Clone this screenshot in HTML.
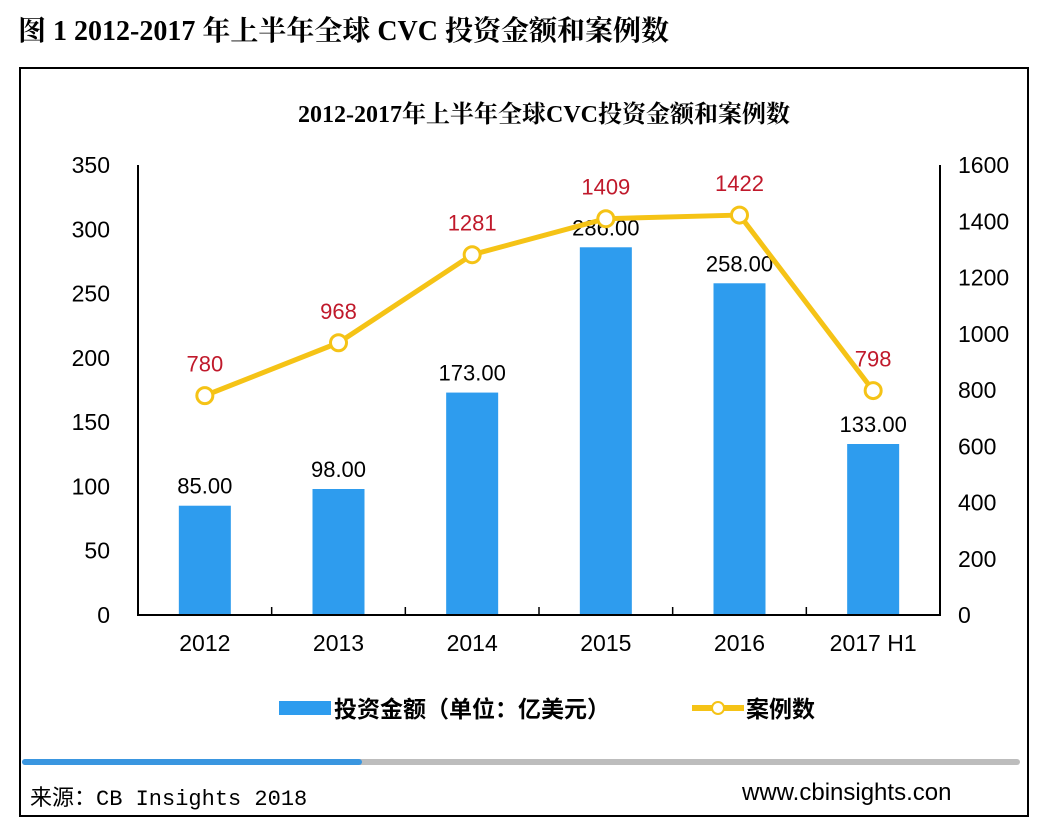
<!DOCTYPE html>
<html><head><meta charset="utf-8"><style>
body{margin:0;background:#fff;width:1042px;height:828px;overflow:hidden;position:relative;font-family:"Liberation Sans","Noto Sans CJK SC",sans-serif}
.t{position:absolute;white-space:nowrap}
</style></head><body>
<div class="t" style="left:18px;top:9px;font-size:28px;font-weight:bold;font-family:'Liberation Serif','Noto Serif CJK SC',serif">图 1 2012-2017 年上半年全球 CVC 投资金额和案例数</div>
<div style="position:absolute;left:19px;top:67px;width:1006px;height:746px;border:2px solid #000"></div>
<div style="position:absolute;left:22px;top:759px;width:998px;height:6px;background:#bdbdbd;border-radius:3px"></div>
<div style="position:absolute;left:22px;top:759px;width:340px;height:6px;background:#3a96e0;border-radius:3px"></div>
<div class="t" style="left:30px;top:780px;font-size:22px;font-family:'Liberation Mono','Noto Sans CJK SC',monospace">来源：CB Insights 2018</div>
<div class="t" style="left:742px;top:779px;font-size:24px">www.cbinsights.con</div>
<svg id="c" width="1042" height="828" style="position:absolute;left:0;top:0"></svg>
<script>
const categories=["2012","2013","2014","2015","2016","2017 H1"];
const amounts=[85,98,173,286,258,133];
const cases=[780,968,1281,1409,1422,798];
const leftTicks=[0,50,100,150,200,250,300,350];
const rightTicks=[0,200,400,600,800,1000,1200,1400,1600];
const L=138,R=940,T=165,B=615;
const bw=(R-L)/categories.length;
const xC=i=>L+bw*(i+0.5);
const yL=v=>B-v/350*(B-T);
const yR=v=>B-v/1600*(B-T);
const s=document.getElementById('c');const NS='http://www.w3.org/2000/svg';
function el(tag,a,txt){const e=document.createElementNS(NS,tag);for(const k in a)e.setAttribute(k,a[k]);if(txt!=null)e.textContent=txt;s.appendChild(e);return e;}
let e;
e=el('text',{x:544,y:122,'text-anchor':'middle','font-size':24,'font-weight':'bold','font-family':'Liberation Serif,Noto Serif CJK SC,serif'},'2012-2017年上半年全球CVC投资金额和案例数');

amounts.forEach((v,i)=>{
e=el('rect',{x:xC(i)-26,y:yL(v),width:52,height:B-yL(v),fill:'#2e9cee'});

e=el('text',{x:xC(i),y:yL(v)-12,'text-anchor':'middle','font-size':22},v.toFixed(2));

});
e=el('path',{d:`M${L},${T}V${B}H${R}V${T}`,fill:'none',stroke:'#000','stroke-width':2});

for(let i=1;i<categories.length;i++){e=el('line',{x1:L+bw*i,x2:L+bw*i,y1:B,y2:B-8,stroke:'#000','stroke-width':1.5});
}
leftTicks.forEach(v=>{e=el('text',{x:110,y:yL(v)+8,'text-anchor':'end','font-size':23},v);
});
rightTicks.forEach(v=>{e=el('text',{x:958,y:yR(v)+8,'font-size':23},v);
});
categories.forEach((c,i)=>{e=el('text',{x:xC(i),y:651,'text-anchor':'middle','font-size':23},c);
});
e=el('polyline',{points:cases.map((v,i)=>xC(i)+','+yR(v)).join(' '),fill:'none',stroke:'#f5c316','stroke-width':5,'stroke-linejoin':'round'});

cases.forEach((v,i)=>{
e=el('circle',{cx:xC(i),cy:yR(v),r:8,fill:'#fff',stroke:'#f5c316','stroke-width':3});

e=el('text',{x:xC(i),y:yR(v)-24,'text-anchor':'middle','font-size':22,fill:'#c0192b'},v);

});
e=el('rect',{x:279,y:701,width:52,height:14,fill:'#2e9cee'});

e=el('text',{x:334,y:717,'font-size':23,'font-weight':'bold'},'投资金额（单位：亿美元）');

e=el('line',{x1:692,x2:744,y1:708,y2:708,stroke:'#f5c316','stroke-width':6});

e=el('circle',{cx:718,cy:708,r:6,fill:'#fff',stroke:'#f5c316','stroke-width':2});

e=el('text',{x:746,y:717,'font-size':23,'font-weight':'bold'},'案例数');

</script>
</body></html>
